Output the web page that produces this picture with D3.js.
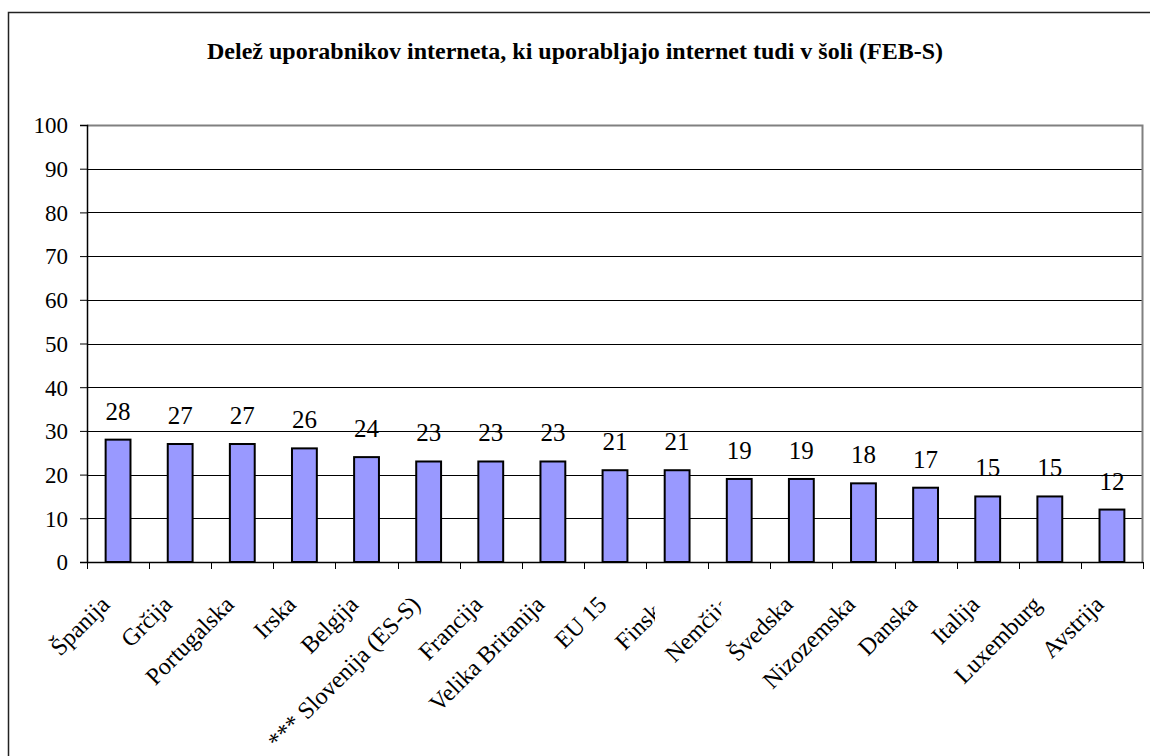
<!DOCTYPE html>
<html>
<head>
<meta charset="utf-8">
<script src="https://cdn.jsdelivr.net/npm/d3@7"></script>
<style>
  body { margin: 0; background: #fff; }
</style>
</head>
<body>
<svg id="chart" width="1150" height="756"></svg>
<script>
const titleText = "Delež uporabnikov interneta, ki uporabljajo internet tudi v šoli (FEB-S)";
const countries = ["Španija", "Grčija", "Portugalska", "Irska", "Belgija", "*** Slovenija (ES-S)",
  "Francija", "Velika Britanija", "EU 15", "Finska", "Nemčija", "Švedska", "Nizozemska",
  "Danska", "Italija", "Luxemburg", "Avstrija"];
const shares = [28, 27, 27, 26, 24, 23, 23, 23, 21, 21, 19, 19, 18, 17, 15, 15, 12];
const yTicks = [0, 10, 20, 30, 40, 50, 60, 70, 80, 90, 100];

const serif = "'Liberation Serif', 'Times New Roman', Times, serif";

// two labels are cut off on their right side in the original picture
const clipOffset = {"Finska": -22, "Nemčija": -18};

const margin = {top: 125, right: 7, bottom: 194, left: 87},
    width = 1150 - margin.left - margin.right,
    height = 756 - margin.top - margin.bottom;

const svg = d3.select("#chart");
const defs = svg.append("defs");

// outer frame (only top and left edges are visible in the picture)
svg.append("path")
    .attr("d", "M8.5,756 V12.5 H1150")
    .attr("fill", "none")
    .attr("stroke", "#222")
    .attr("stroke-width", 1.5);

svg.append("text")
    .attr("x", 575)
    .attr("y", 59)
    .attr("text-anchor", "middle")
    .attr("font-family", serif)
    .attr("font-size", 24)
    .attr("font-weight", "bold")
    .text(titleText);

const g = svg.append("g")
    .attr("transform", "translate(" + margin.left + "," + margin.top + ")");

const x = d3.scaleBand()
    .domain(countries)
    .range([0, width])
    .paddingInner(0.6)
    .paddingOuter(0.3);

const y = d3.scaleLinear()
    .domain([0, 100])
    .range([height, 0]);

// gridlines
g.append("g")
    .selectAll("line")
    .data(yTicks.filter(d => d > 0 && d < 100))
    .enter().append("line")
    .attr("x1", 0)
    .attr("x2", width)
    .attr("y1", d => Math.round(y(d)) + 0.5)
    .attr("y2", d => Math.round(y(d)) + 0.5)
    .attr("stroke", "#000")
    .attr("stroke-width", 1);

// plot border top / right (gray)
g.append("path")
    .attr("d", "M0," + (y(100) + 0.5) + " H" + (width - 0.5) + " V" + height)
    .attr("fill", "none")
    .attr("stroke", "#808080")
    .attr("stroke-width", 2);

// y axis
const yAxis = g.append("g")
    .call(d3.axisLeft(y).tickValues(yTicks).tickSize(7).tickPadding(12));
yAxis.attr("font-family", serif).attr("font-size", 23);
yAxis.select(".domain").attr("stroke", "#000").attr("stroke-width", 1.5);
yAxis.selectAll(".tick line").attr("stroke", "#000");
yAxis.selectAll(".tick text").attr("fill", "#000").attr("dy", "0.34em");

// x axis: ticks between categories
const step = x.step();
const x0 = x(countries[0]) - x.paddingOuter() * step;
g.append("line")
    .attr("x1", 0).attr("x2", width)
    .attr("y1", height + 0.5).attr("y2", height + 0.5)
    .attr("stroke", "#000").attr("stroke-width", 1.5);
g.append("g")
    .selectAll("line")
    .data(d3.range(countries.length + 1))
    .enter().append("line")
    .attr("x1", i => Math.round(x0 + i * step) + 0.5)
    .attr("x2", i => Math.round(x0 + i * step) + 0.5)
    .attr("y1", height)
    .attr("y2", height + 7)
    .attr("stroke", "#000");

// bars
g.selectAll(".bar")
    .data(shares)
    .enter().append("rect")
    .attr("class", "bar")
    .attr("x", (d, i) => x(countries[i]))
    .attr("y", d => y(d))
    .attr("width", x.bandwidth())
    .attr("height", d => height - y(d))
    .attr("fill", "#9999ff")
    .attr("stroke", "#000")
    .attr("stroke-width", 2);

// value labels
g.selectAll(".val")
    .data(shares)
    .enter().append("text")
    .attr("class", "val")
    .attr("x", (d, i) => x(countries[i]) + x.bandwidth() / 2)
    .attr("y", d => y(d) - 20)
    .attr("text-anchor", "middle")
    .attr("font-family", serif)
    .attr("font-size", 25)
    .text(d => d);

// clip paths for the cut-off labels
Object.keys(clipOffset).forEach((name, k) => {
    const cx = x(name) + x.bandwidth() / 2 + clipOffset[name];
    defs.append("clipPath")
        .attr("id", "cut" + k)
        .append("rect")
        .attr("x", cx - 400)
        .attr("y", height)
        .attr("width", 400)
        .attr("height", 300);
});

// category labels, rotated
g.selectAll(".cat")
    .data(countries)
    .enter().append("g")
    .attr("clip-path", d => d in clipOffset ? "url(#cut" + Object.keys(clipOffset).indexOf(d) + ")" : null)
    .append("text")
    .attr("class", "cat")
    .attr("text-anchor", "end")
    .attr("transform", d => "translate(" + (x(d) + x.bandwidth() / 2 - 7) + "," + (height + 44) + ") rotate(-45)")
    .attr("font-family", serif)
    .attr("font-size", 24)
    .text(d => d);
</script>
</body>
</html>
